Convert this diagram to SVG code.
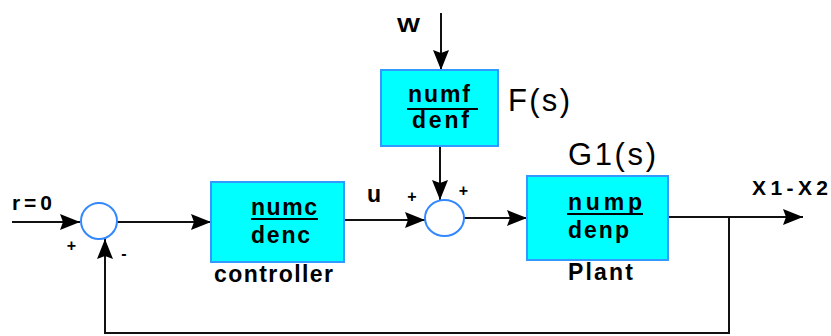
<svg xmlns="http://www.w3.org/2000/svg" width="831" height="336" viewBox="0 0 831 336">
<defs>
<marker id="arr" markerUnits="userSpaceOnUse" markerWidth="22" markerHeight="18" refX="20" refY="9" orient="auto">
<path d="M0,1 L20,9 L0,17 L3,9 z" fill="#000"/>
</marker>
</defs>
<style>
.box{fill:#00FFFF;stroke:#3399FF;stroke-width:2}
.sum{fill:#fff;stroke:#3388FF;stroke-width:2}
.ln{fill:none;stroke:#111;stroke-width:2}
.b{font-family:"Liberation Sans",Arial,sans-serif;font-weight:bold;font-size:23px;fill:#000}
.m{font-family:"Liberation Sans",Arial,sans-serif;font-weight:bold;font-size:21px;fill:#000}
.r{font-family:"Liberation Sans",Arial,sans-serif;font-size:31px;fill:#000}
.s{font-family:"Liberation Sans",Arial,sans-serif;font-weight:bold;font-size:16px;fill:#000;text-anchor:middle}
.ul{stroke:#000;stroke-width:2}
</style>
<rect width="831" height="336" fill="#fff"/>
<g id="connectors">
<path class="ln" d="M12,222 H80" marker-end="url(#arr)"/>
<path class="ln" d="M117,222 H211" marker-end="url(#arr)"/>
<path class="ln" d="M344,220 H425" marker-end="url(#arr)"/>
<path class="ln" d="M441,13 V70" marker-end="url(#arr)"/>
<path class="ln" d="M440,146 V200" marker-end="url(#arr)"/>
<path class="ln" d="M463,218 H527" marker-end="url(#arr)"/>
<path class="ln" d="M668,217 H803" marker-end="url(#arr)"/>
<path class="ln" d="M729,217 V333 H105 V239" marker-end="url(#arr)"/>
</g>
<g id="sum1">
<circle class="sum" cx="99" cy="221" r="18"/>
<text class="s" x="71.5" y="251">+</text>
<text class="s" x="124" y="259">-</text>
</g>
<g id="sum2">
<ellipse class="sum" cx="444.5" cy="218" rx="19.5" ry="18"/>
<text class="s" x="412" y="202">+</text>
<text class="s" x="463.5" y="196">+</text>
</g>
<g id="controller">
<rect class="box" x="211" y="182" width="133" height="80"/>
<text class="b" x="251" y="215" textLength="66" lengthAdjust="spacing">numc</text>
<line class="ul" x1="251" y1="219" x2="318" y2="219"/>
<text class="b" x="251" y="243" textLength="59" lengthAdjust="spacing">denc</text>
<text class="b" x="214" y="282" textLength="119" lengthAdjust="spacing">controller</text>
</g>
<g id="filter">
<rect class="box" x="381" y="70" width="117" height="76"/>
<text class="b" x="408" y="102" textLength="62" lengthAdjust="spacing">numf</text>
<line class="ul" x1="407" y1="109" x2="478" y2="109"/>
<text class="b" x="412" y="128" textLength="57" lengthAdjust="spacing">denf</text>
<text class="r" x="508" y="111" textLength="62" lengthAdjust="spacing">F(s)</text>
</g>
<g id="plant">
<rect class="box" x="527" y="176" width="141" height="84"/>
<text class="b" x="568" y="210" textLength="74" lengthAdjust="spacing">nump</text>
<line class="ul" x1="567" y1="214" x2="643" y2="214"/>
<text class="b" x="568" y="238" textLength="61" lengthAdjust="spacing">denp</text>
<text class="b" x="568" y="280" textLength="65" lengthAdjust="spacing">Plant</text>
<text class="r" x="568" y="165" textLength="88" lengthAdjust="spacing">G1(s)</text>
</g>
<g id="labels">
<text class="m" x="12" y="210" textLength="40" lengthAdjust="spacing">r=0</text>
<text class="b" x="367" y="202">u</text>
<text class="m" x="397" y="32" textLength="23" lengthAdjust="spacingAndGlyphs">W</text>
<text class="m" x="752" y="195" textLength="76" lengthAdjust="spacing">X1-X2</text>
</g>
</svg>
